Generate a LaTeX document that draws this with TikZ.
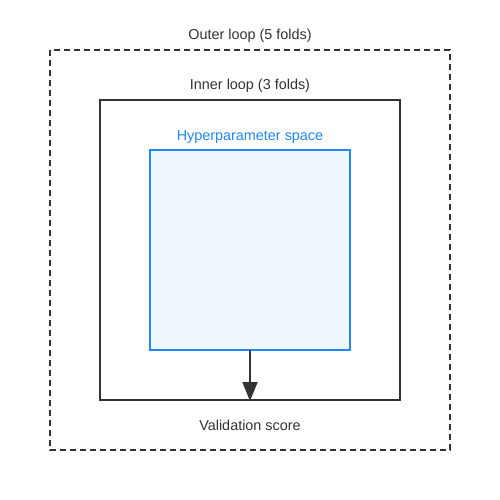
\documentclass[tikz,border=0pt]{standalone}
\usepackage{fontspec}
\setmainfont{Liberation Sans}
\usetikzlibrary{arrows.meta}
\definecolor{ink}{HTML}{333333}
\definecolor{hblue}{HTML}{1E88FF}
\definecolor{hfill}{HTML}{EEF6FE}
\tikzset{
  lbl/.style={font=\fontsize{14.4}{16}\selectfont, text=ink, inner sep=0pt, anchor=base},
  outerbox/.style={draw=ink, line width=2pt, dash pattern=on 6pt off 4pt},
  innerbox/.style={draw=ink, line width=2pt},
  hbox/.style={draw=hblue, fill=hfill, line width=2pt},
}
\begin{document}
\begin{tikzpicture}[x=1pt,y=-1pt]
\useasboundingbox (0,0) rectangle (500,500);
\fill[white] (0,0) rectangle (500,500);
\draw[outerbox] (50,50) rectangle (450,450);
\draw[innerbox] (100,100) rectangle (400,400);
\draw[hbox] (150,150) rectangle (350,350);
\coordinate (hb) at (250,350);
\coordinate (ib) at (250,400);
\node[lbl] (outer) at (250,40) {Outer loop (5 folds)};
\node[lbl] (inner) at (250,90) {Inner loop (3 folds)};
\node[lbl, text=hblue] (hyper) at (250,140) {Hyperparameter space};
\node[lbl] (val) at (250,430) {Validation score};
\draw[ink, line width=2pt, -{Triangle[length=19pt,width=15pt]}, shorten >=-1pt] (hb) -- (ib);
\end{tikzpicture}
\end{document}
